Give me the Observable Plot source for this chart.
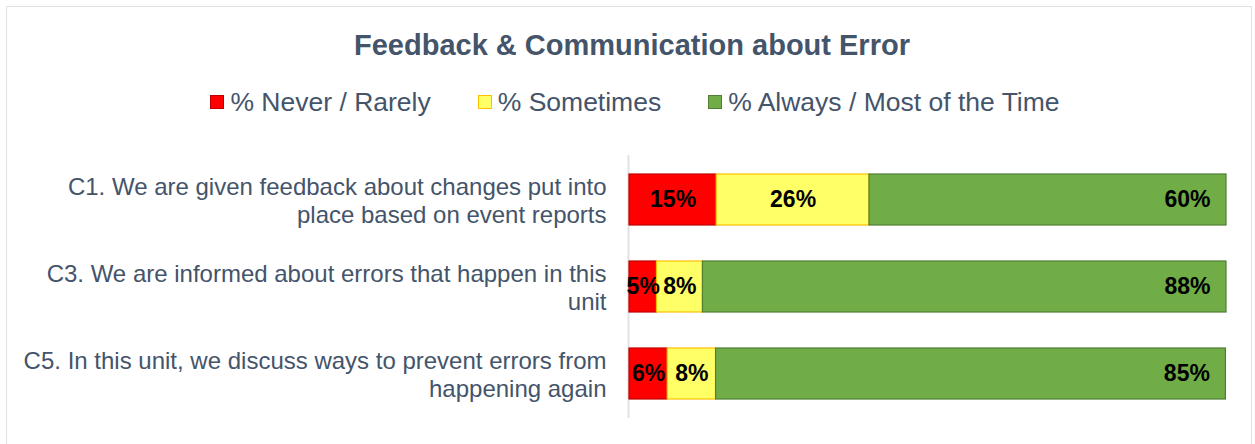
<!DOCTYPE html>
<html>
<head>
<meta charset="utf-8">
<script src="https://cdn.jsdelivr.net/npm/d3@7"></script>
<script src="https://cdn.jsdelivr.net/npm/@observablehq/plot@0.6"></script>
<style>
  html, body { margin: 0; padding: 0; background: #fff; }
  body { font-family: "Liberation Sans", Arial, sans-serif; }
  #wrap { position: relative; width: 1255px; height: 444px; overflow: hidden; }
  #border { position: absolute; left: 6px; top: 6px; width: 1246px; height: 460px; border: 1.5px solid #e0e3e6; box-sizing: border-box; }
  #title { position: absolute; left: 0; width: 1264px; top: 31px; text-align: center; font-size: 29px; line-height: 1; font-weight: bold; color: #44546a; }
  #legend { position: absolute; left: 0; width: 1270px; top: 89px; display: flex; justify-content: center; gap: 47px; font-size: 26.5px; line-height: 1; color: #44546a; }
  .item { display: flex; align-items: center; }
  .sw { width: 14px; height: 14px; box-sizing: border-box; border: 1.5px solid; margin-right: 6px; }
  #chart { position: absolute; left: 0; top: 130px; }
</style>
</head>
<body>
<div id="wrap">
  <div id="border"></div>
  <div id="title"></div>
  <div id="legend"></div>
  <div id="chart"></div>
</div>
<script>
const title = "Feedback & Communication about Error";
const categories = [
  "C1. We are given feedback about changes put into\nplace based on event reports",
  "C3. We are informed about errors that happen in this\nunit",
  "C5. In this unit, we discuss ways to prevent errors from\nhappening again"
];
const series = ["% Never / Rarely", "% Sometimes", "% Always / Most of the Time"];
const neverRarely = [14.6, 4.6, 6.4];
const sometimes   = [25.6, 7.7, 8.1];
const always      = [59.8, 87.7, 85.4];
const fills   = ["#ff0000", "#ffff66", "#70ad47"];
const strokes = ["#c00000", "#ffc000", "#507e32"];

const valuesBySeries = [neverRarely, sometimes, always];
const rows = [];
categories.forEach((c, i) => {
  series.forEach((s, j) => rows.push({category: c, series: s, value: valuesBySeries[j][i]}));
});
const strokeOf = Object.fromEntries(series.map((s, j) => [s, strokes[j]]));
const pct = d => Math.round(d.value) + "%";

document.getElementById("title").textContent = title;
const legend = document.getElementById("legend");
series.forEach((s, j) => {
  const it = document.createElement("div"); it.className = "item";
  const sw = document.createElement("div"); sw.className = "sw";
  sw.style.background = fills[j]; sw.style.borderColor = strokes[j];
  const tx = document.createElement("span"); tx.textContent = s;
  it.appendChild(sw); it.appendChild(tx); legend.appendChild(it);
});

const chart = Plot.plot({
  width: 1255,
  height: 314,
  marginTop: 25,
  marginBottom: 26,
  marginLeft: 629,
  marginRight: 29,
  style: {fontFamily: '"Liberation Sans", Arial, sans-serif', background: "transparent"},
  x: {domain: [0, 100], axis: null},
  y: {domain: categories, paddingInner: 0.41, paddingOuter: 0.205, axis: null},
  color: {domain: series, range: fills},
  marks: [
    Plot.ruleX([0], {stroke: "#dfe2e6", strokeWidth: 2, dx: -1}),
    Plot.text(categories, {
      y: d => d, x: 0, text: d => d, textAnchor: "end", dx: -23,
      fontSize: 24, lineHeight: 1.17, fill: "#44546a"
    }),
    Plot.barX(rows, Plot.stackX({
      x: "value", y: "category", fill: "series", order: series,
      stroke: d => strokeOf[d.series], strokeWidth: 1.2
    })),
    Plot.text(rows, Plot.stackX({
      x: "value", y: "category", z: "series", order: series,
      text: d => d.series === series[2] ? null : pct(d),
      fontSize: 23, fontWeight: "bold", fill: "black"
    })),
    Plot.text(rows, Plot.stackX2({
      x: "value", y: "category", z: "series", order: series,
      text: d => d.series === series[2] ? pct(d) : null,
      textAnchor: "end", dx: -16,
      fontSize: 23, fontWeight: "bold", fill: "black"
    }))
  ]
});
document.getElementById("chart").appendChild(chart);
</script>
</body>
</html>
